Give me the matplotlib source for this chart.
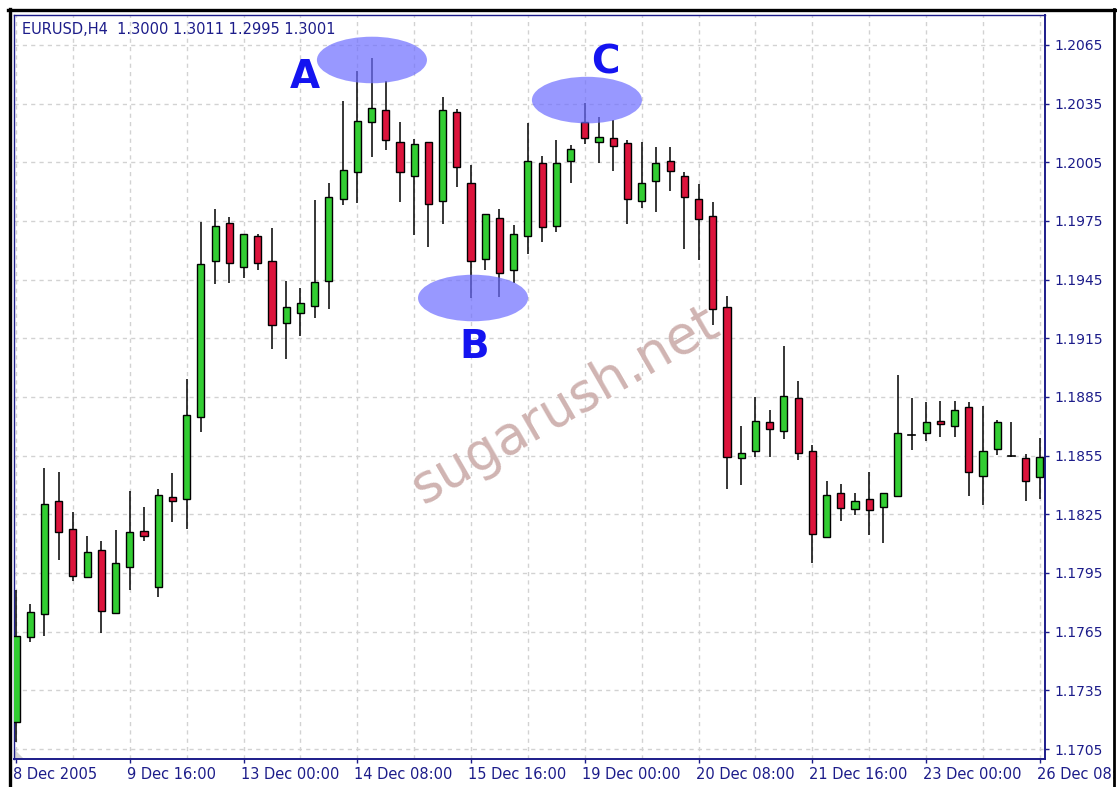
import matplotlib
matplotlib.use("Agg")
import matplotlib.pyplot as plt
from matplotlib.patches import Rectangle, Ellipse, Polygon
from matplotlib.lines import Line2D
import matplotlib.transforms as mtransforms

# ---------------- data ----------------
header_text = "EURUSD,H4  1.3000 1.3011 1.2995 1.3001"

opens = [1.17187, 1.17621, 1.17739, 1.18320, 1.18175, 1.17928, 1.18068, 1.17747, 1.17982, 1.18166,
         1.17877, 1.18337, 1.18328, 1.18746, 1.19545, 1.19738, 1.19516, 1.19673, 1.19547, 1.19227,
         1.19281, 1.19317, 1.19445, 1.19864, 1.19999, 1.20255, 1.20318, 1.20152, 1.19982, 1.20152,
         1.19854, 1.20309, 1.19946, 1.19554, 1.19764, 1.19499, 1.19673, 1.20045, 1.19726, 1.20057,
         1.20255, 1.20155, 1.20173, 1.20147, 1.19854, 1.19954, 1.20057, 1.19982, 1.19864, 1.19776,
         1.19312, 1.18537, 1.18575, 1.18721, 1.18676, 1.18846, 1.18574, 1.18136, 1.18358, 1.18277,
         1.18328, 1.18285, 1.18344, 1.18657, 1.18667, 1.18729, 1.18702, 1.18800, 1.18448, 1.18583,
         1.18548, 1.18537, 1.18439]
highs = [1.17863, 1.17790, 1.18485, 1.18468, 1.18260, 1.18141, 1.18115, 1.18170, 1.18369, 1.18286,
         1.18380, 1.18460, 1.18940, 1.19746, 1.19811, 1.19769, 1.19685, 1.19684, 1.19713, 1.19443,
         1.19406, 1.19857, 1.19946, 1.20365, 1.20519, 1.20582, 1.20467, 1.20258, 1.20168, 1.20155,
         1.20383, 1.20321, 1.20036, 1.19787, 1.19811, 1.19730, 1.20250, 1.20084, 1.20164, 1.20139,
         1.20355, 1.20283, 1.20266, 1.20164, 1.20155, 1.20130, 1.20130, 1.20002, 1.19939, 1.19849,
         1.19367, 1.18703, 1.18849, 1.18784, 1.19112, 1.18932, 1.18605, 1.18422, 1.18405, 1.18358,
         1.18468, 1.18360, 1.18962, 1.18843, 1.18823, 1.18831, 1.18831, 1.18823, 1.18806, 1.18732,
         1.18724, 1.18559, 1.18642]
lows = [1.17087, 1.17599, 1.17628, 1.18017, 1.17909, 1.17925, 1.17645, 1.17745, 1.17863, 1.18115,
        1.17829, 1.18209, 1.18175, 1.18673, 1.19426, 1.19435, 1.19460, 1.19499, 1.19095, 1.19043,
        1.19162, 1.19252, 1.19298, 1.19832, 1.19841, 1.20079, 1.20113, 1.19849, 1.19678, 1.19615,
        1.19735, 1.19925, 1.19355, 1.19499, 1.19363, 1.19435, 1.19580, 1.19641, 1.19695, 1.19943,
        1.20142, 1.20045, 1.20007, 1.19733, 1.19815, 1.19798, 1.19905, 1.19605, 1.19551, 1.19218,
        1.18380, 1.18400, 1.18545, 1.18545, 1.18634, 1.18528, 1.18000, 1.18133, 1.18216, 1.18247,
        1.18144, 1.18102, 1.18340, 1.18581, 1.18627, 1.18644, 1.18644, 1.18345, 1.18298, 1.18553,
        1.18542, 1.18318, 1.18327]
closes = [1.17629, 1.17749, 1.18303, 1.18158, 1.17936, 1.18056, 1.17756, 1.18003, 1.18158, 1.18139,
          1.18349, 1.18320, 1.18758, 1.19529, 1.19726, 1.19537, 1.19682, 1.19537, 1.19218, 1.19310,
          1.19329, 1.19437, 1.19871, 1.20009, 1.20263, 1.20326, 1.20164, 1.19999, 1.20144, 1.19837,
          1.20318, 1.20028, 1.19547, 1.19784, 1.19483, 1.19682, 1.20057, 1.19718, 1.20045, 1.20118,
          1.20173, 1.20181, 1.20135, 1.19862, 1.19943, 1.20045, 1.20007, 1.19871, 1.19762, 1.19300,
          1.18545, 1.18565, 1.18729, 1.18685, 1.18855, 1.18565, 1.18149, 1.18349, 1.18284, 1.18320,
          1.18274, 1.18358, 1.18667, 1.18657, 1.18721, 1.18712, 1.18784, 1.18465, 1.18575, 1.18721,
          1.18548, 1.18420, 1.18545]

x_tick_bars = [0, 8, 16, 24, 32, 40, 48, 56, 64, 72]
x_tick_labels = ["8 Dec 2005", "9 Dec 16:00", "13 Dec 00:00", "14 Dec 08:00", "15 Dec 16:00",
                 "19 Dec 00:00", "20 Dec 08:00", "21 Dec 16:00", "23 Dec 00:00", "26 Dec 08:00"]
y_ticks = [1.1705, 1.1735, 1.1765, 1.1795, 1.1825, 1.1855, 1.1885, 1.1915, 1.1945, 1.1975,
           1.2005, 1.2035, 1.2065]

# annotation points (bar index, price)
zone_labels = ["A", "B", "C"]
zone_centers = [(25.03, 1.20573), (32.14, 1.19356), (40.15, 1.20368)]
label_points = [(20.32, 1.20430), (32.21, 1.19049), (41.42, 1.20502)]

# ---------------- style ----------------
W, H = 1117, 787
NAVY = "#1c1c8a"
GREEN = "#32cd32"
RED = "#dc143c"
GRID = "#d2d2d2"
plt.rcParams["lines.scale_dashes"] = False
plt.rcParams["font.family"] = ["DejaVu Sans"]

fig = plt.figure(figsize=(W / 100, H / 100), dpi=100)
fig.patch.set_facecolor("white")
ax = fig.add_axes([14 / W, 28 / H, 1031 / W, 744 / H])
ax.set_facecolor("white")

ax.set_xlim(-0.14, 72.36)
ax.set_ylim(1.169989, 1.20803)

# grid
for gx in range(0, 73, 4):
    ax.axvline(gx, color=GRID, lw=1.0, ls=(0, (3, 3)), zorder=1)
for gy in y_ticks:
    ax.axhline(gy, color=GRID, lw=1.0, ls=(0, (3, 3)), zorder=1)

# watermark
ax.text((565 - 14) / 1031, (759 - 405) / 744, "sugarush.net", transform=ax.transAxes,
        rotation=30, ha="center", va="center", rotation_mode="anchor",
        fontsize=38, color="#d0b4b2", zorder=2)

# candles
bw = 0.5
for i, (o, h, l, c) in enumerate(zip(opens, highs, lows, closes)):
    ax.plot([i, i], [l, h], color="black", lw=1.1, zorder=3, solid_capstyle="butt")
    if abs(c - o) < 1e-6:
        ax.plot([i - bw / 2, i + bw / 2], [o, o], color="black", lw=1.2, zorder=4)
    else:
        col = GREEN if c > o else RED
        ax.add_patch(Rectangle((i - bw / 2, min(o, c)), bw, abs(c - o),
                               facecolor=col, edgecolor="black", lw=1.0, zorder=4))

# highlighted zones
for (cx, cy) in zone_centers:
    ax.add_patch(Ellipse((cx, cy), 7.74, 0.00238, facecolor="#6d6dff", edgecolor="none",
                         alpha=0.7, zorder=5))
for lab, (lx, ly) in zip(zone_labels, label_points):
    ax.text(lx, ly, lab, ha="center", va="baseline", fontsize=28, fontweight="bold",
            color="#1414f0", zorder=6)

# chart-shift triangle
ax.add_patch(Polygon([(0, 0), (10 / 1031, 0), (0, 10 / 744)], closed=True,
                     transform=ax.transAxes, facecolor="#d4d4d4", edgecolor="none", zorder=2))

# axes & ticks
for s in ax.spines.values():
    s.set_color(NAVY)
    s.set_linewidth(1.0)
ax.spines["right"].set_linewidth(1.4)
ax.spines["bottom"].set_linewidth(1.4)

ax.yaxis.tick_right()
ax.set_yticks(y_ticks)
ax.set_yticklabels(["%.4f" % v for v in y_ticks])
ax.set_xticks(x_tick_bars)
ax.set_xticklabels(x_tick_labels, ha="left")
ax.tick_params(axis="both", colors=NAVY, direction="out", length=3, width=1.0)
ax.tick_params(axis="y", labelsize=10, pad=4, labelcolor=NAVY)
ax.tick_params(axis="x", labelsize=10.5, pad=3, labelcolor=NAVY)
offset = mtransforms.ScaledTranslation(-3 / 100, 0, fig.dpi_scale_trans)
for lbl in ax.get_xticklabels():
    lbl.set_transform(lbl.get_transform() + offset)

# header
fig.text(22 / W, 1 - 29 / H, header_text, ha="left", va="center", fontsize=10.5, color=NAVY)

# outer black frame
fig.add_artist(Line2D([8 / W, 1], [1 - 10 / H, 1 - 10 / H], color="black", lw=2.4,
                      transform=fig.transFigure))
fig.add_artist(Line2D([10 / W, 10 / W], [0, 1 - 8.5 / H], color="black", lw=2.4,
                      transform=fig.transFigure))
fig.add_artist(Line2D([1113.5 / W, 1113.5 / W], [0, 1 - 8.5 / H], color="black", lw=2.0,
                      transform=fig.transFigure))

fig.savefig("out.png", dpi=100)
